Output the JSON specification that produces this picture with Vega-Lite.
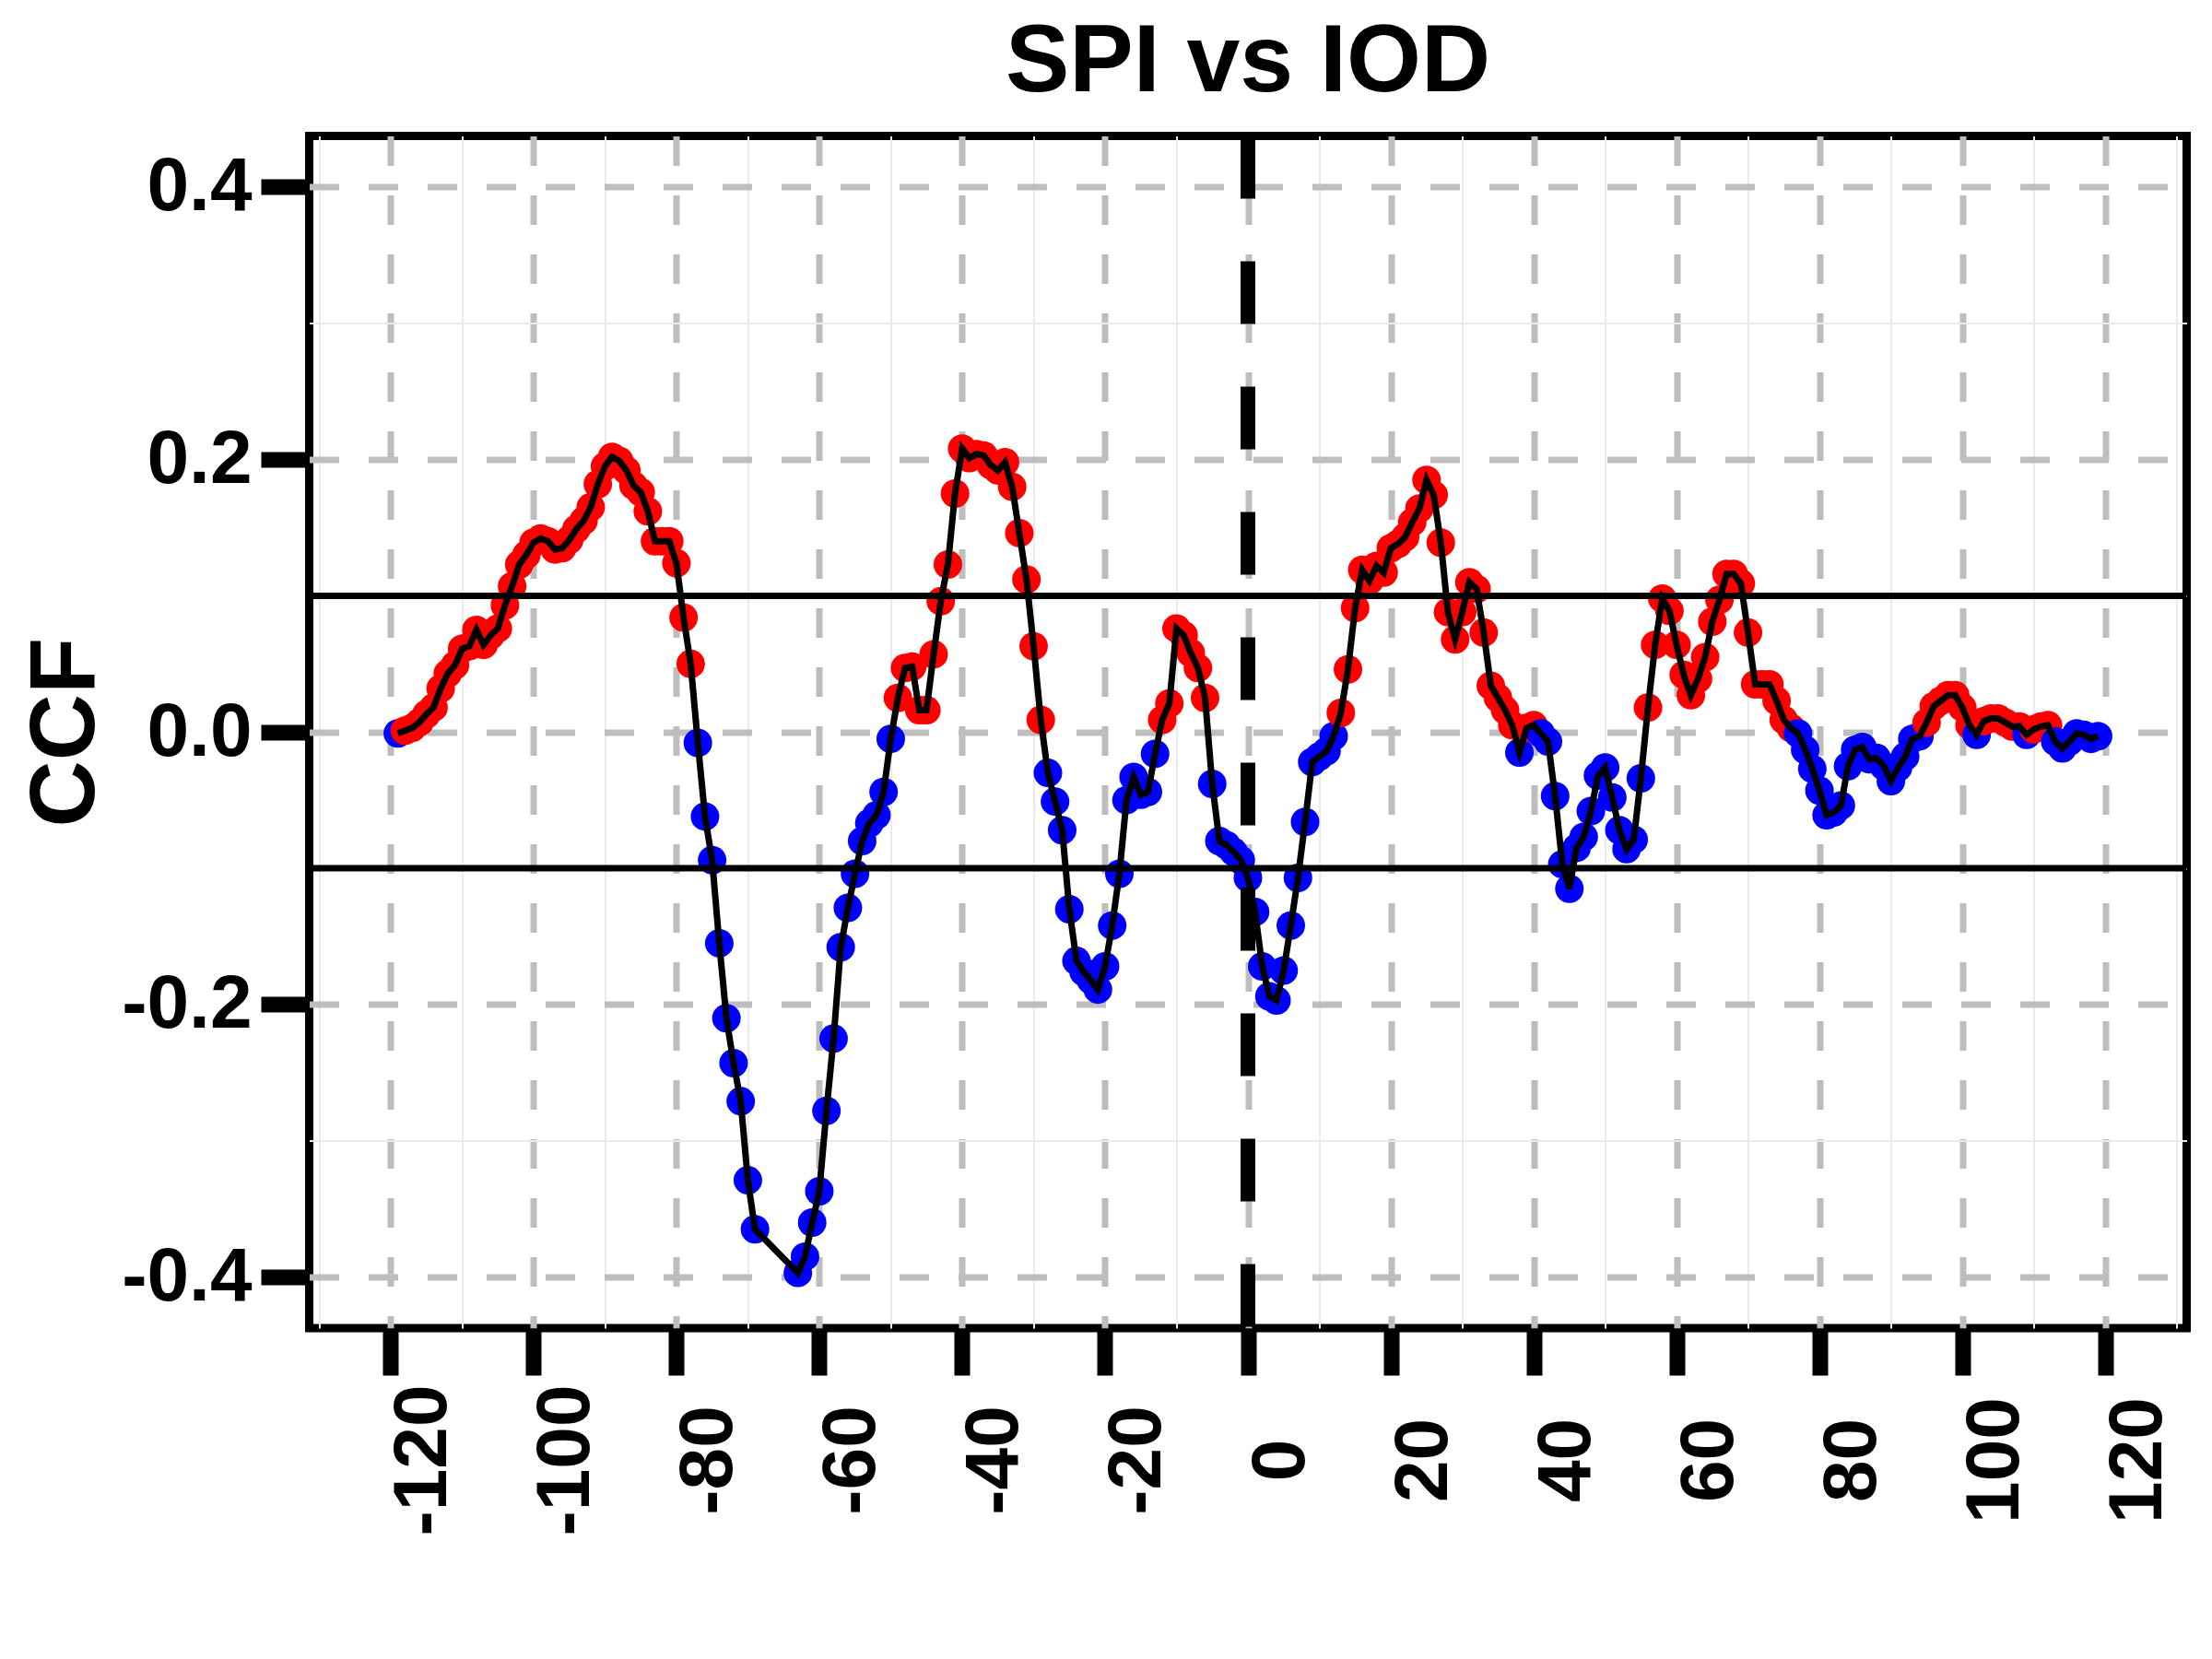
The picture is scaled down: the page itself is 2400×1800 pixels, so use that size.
{
  "$schema": "https://vega.github.io/schema/vega-lite/v6.json",
  "autosize": {"type": "none"},
  "padding": {"left": 335.5, "top": 147.5, "right": 27.5, "bottom": 359},
  "width": 2037,
  "height": 1293.5,
  "background": "white",
  "config": {"font": "Liberation Sans", "view": {"stroke": "black", "strokeWidth": 9}},
  "title": {"text": "SPI vs IOD", "fontSize": 104, "fontWeight": "bold", "font": "Liberation Sans", "anchor": "middle", "color": "black", "offset": 19},
  "datasets": {
    "ccf": [
      {"lag": -119, "ccf": -0.001}, {"lag": -118, "ccf": 0.001}, {"lag": -117, "ccf": 0.003}, {"lag": -116, "ccf": 0.007},
      {"lag": -115, "ccf": 0.013}, {"lag": -114, "ccf": 0.018}, {"lag": -113, "ccf": 0.032}, {"lag": -112, "ccf": 0.043},
      {"lag": -111, "ccf": 0.049}, {"lag": -110, "ccf": 0.061}, {"lag": -109, "ccf": 0.063}, {"lag": -108, "ccf": 0.075},
      {"lag": -107, "ccf": 0.064}, {"lag": -106, "ccf": 0.071}, {"lag": -105, "ccf": 0.076}, {"lag": -104, "ccf": 0.093},
      {"lag": -103, "ccf": 0.107}, {"lag": -102, "ccf": 0.123}, {"lag": -101, "ccf": 0.130}, {"lag": -100, "ccf": 0.139},
      {"lag": -99, "ccf": 0.142}, {"lag": -98, "ccf": 0.140}, {"lag": -97, "ccf": 0.134}, {"lag": -96, "ccf": 0.135},
      {"lag": -95, "ccf": 0.141}, {"lag": -94, "ccf": 0.149}, {"lag": -93, "ccf": 0.155}, {"lag": -92, "ccf": 0.165},
      {"lag": -91, "ccf": 0.182}, {"lag": -90, "ccf": 0.195}, {"lag": -89, "ccf": 0.202}, {"lag": -88, "ccf": 0.199},
      {"lag": -87, "ccf": 0.192}, {"lag": -86, "ccf": 0.181}, {"lag": -85, "ccf": 0.176}, {"lag": -84, "ccf": 0.162},
      {"lag": -83, "ccf": 0.140}, {"lag": -82, "ccf": 0.140}, {"lag": -81, "ccf": 0.140}, {"lag": -80, "ccf": 0.124},
      {"lag": -79, "ccf": 0.084}, {"lag": -78, "ccf": 0.050}, {"lag": -77, "ccf": -0.008}, {"lag": -76, "ccf": -0.062},
      {"lag": -75, "ccf": -0.094}, {"lag": -74, "ccf": -0.155}, {"lag": -73, "ccf": -0.210}, {"lag": -72, "ccf": -0.243},
      {"lag": -71, "ccf": -0.271}, {"lag": -70, "ccf": -0.329}, {"lag": -69, "ccf": -0.365},
      {"lag": -63, "ccf": -0.397}, {"lag": -62, "ccf": -0.385}, {"lag": -61, "ccf": -0.360}, {"lag": -60, "ccf": -0.337},
      {"lag": -59, "ccf": -0.278}, {"lag": -58, "ccf": -0.225}, {"lag": -57, "ccf": -0.158}, {"lag": -56, "ccf": -0.129},
      {"lag": -55, "ccf": -0.104}, {"lag": -54, "ccf": -0.080}, {"lag": -53, "ccf": -0.067}, {"lag": -52, "ccf": -0.061},
      {"lag": -51, "ccf": -0.044}, {"lag": -50, "ccf": -0.005}, {"lag": -49, "ccf": 0.025}, {"lag": -48, "ccf": 0.047},
      {"lag": -47, "ccf": 0.048}, {"lag": -46, "ccf": 0.016}, {"lag": -45, "ccf": 0.016}, {"lag": -44, "ccf": 0.057},
      {"lag": -43, "ccf": 0.096}, {"lag": -42, "ccf": 0.123}, {"lag": -41, "ccf": 0.175}, {"lag": -40, "ccf": 0.208},
      {"lag": -39, "ccf": 0.201}, {"lag": -38, "ccf": 0.204}, {"lag": -37, "ccf": 0.203}, {"lag": -36, "ccf": 0.196},
      {"lag": -35, "ccf": 0.192}, {"lag": -34, "ccf": 0.198}, {"lag": -33, "ccf": 0.180}, {"lag": -32, "ccf": 0.146},
      {"lag": -31, "ccf": 0.112}, {"lag": -30, "ccf": 0.063}, {"lag": -29, "ccf": 0.009}, {"lag": -28, "ccf": -0.030},
      {"lag": -27, "ccf": -0.051}, {"lag": -26, "ccf": -0.072}, {"lag": -25, "ccf": -0.130}, {"lag": -24, "ccf": -0.168},
      {"lag": -23, "ccf": -0.176}, {"lag": -22, "ccf": -0.182}, {"lag": -21, "ccf": -0.189}, {"lag": -20, "ccf": -0.172},
      {"lag": -19, "ccf": -0.142}, {"lag": -18, "ccf": -0.104}, {"lag": -17, "ccf": -0.050}, {"lag": -16, "ccf": -0.033},
      {"lag": -15, "ccf": -0.046}, {"lag": -14, "ccf": -0.044}, {"lag": -13, "ccf": -0.016}, {"lag": -12, "ccf": 0.009},
      {"lag": -11, "ccf": 0.021}, {"lag": -10, "ccf": 0.076}, {"lag": -9, "ccf": 0.071}, {"lag": -8, "ccf": 0.058},
      {"lag": -7, "ccf": 0.047}, {"lag": -6, "ccf": 0.025}, {"lag": -5, "ccf": -0.038}, {"lag": -4, "ccf": -0.080},
      {"lag": -3, "ccf": -0.083}, {"lag": -2, "ccf": -0.088}, {"lag": -1, "ccf": -0.094}, {"lag": 0, "ccf": -0.107},
      {"lag": 1, "ccf": -0.132}, {"lag": 2, "ccf": -0.172}, {"lag": 3, "ccf": -0.194}, {"lag": 4, "ccf": -0.197},
      {"lag": 5, "ccf": -0.175}, {"lag": 6, "ccf": -0.142}, {"lag": 7, "ccf": -0.107}, {"lag": 8, "ccf": -0.066},
      {"lag": 9, "ccf": -0.022}, {"lag": 10, "ccf": -0.018}, {"lag": 11, "ccf": -0.014}, {"lag": 12, "ccf": -0.003},
      {"lag": 13, "ccf": 0.014}, {"lag": 14, "ccf": 0.046}, {"lag": 15, "ccf": 0.091}, {"lag": 16, "ccf": 0.119},
      {"lag": 17, "ccf": 0.111}, {"lag": 18, "ccf": 0.122}, {"lag": 19, "ccf": 0.117}, {"lag": 20, "ccf": 0.135},
      {"lag": 21, "ccf": 0.138}, {"lag": 22, "ccf": 0.143}, {"lag": 23, "ccf": 0.154}, {"lag": 24, "ccf": 0.164},
      {"lag": 25, "ccf": 0.185}, {"lag": 26, "ccf": 0.174}, {"lag": 27, "ccf": 0.139}, {"lag": 28, "ccf": 0.088},
      {"lag": 29, "ccf": 0.068}, {"lag": 30, "ccf": 0.088}, {"lag": 31, "ccf": 0.110}, {"lag": 32, "ccf": 0.105},
      {"lag": 33, "ccf": 0.073}, {"lag": 34, "ccf": 0.034}, {"lag": 35, "ccf": 0.025}, {"lag": 36, "ccf": 0.016},
      {"lag": 37, "ccf": 0.005}, {"lag": 38, "ccf": -0.015}, {"lag": 39, "ccf": 0.003}, {"lag": 40, "ccf": 0.005},
      {"lag": 41, "ccf": -0.001}, {"lag": 42, "ccf": -0.007}, {"lag": 43, "ccf": -0.047}, {"lag": 44, "ccf": -0.097},
      {"lag": 45, "ccf": -0.115}, {"lag": 46, "ccf": -0.085}, {"lag": 47, "ccf": -0.077}, {"lag": 48, "ccf": -0.058},
      {"lag": 49, "ccf": -0.032}, {"lag": 50, "ccf": -0.026}, {"lag": 51, "ccf": -0.048}, {"lag": 52, "ccf": -0.072},
      {"lag": 53, "ccf": -0.086}, {"lag": 54, "ccf": -0.079}, {"lag": 55, "ccf": -0.034}, {"lag": 56, "ccf": 0.018},
      {"lag": 57, "ccf": 0.064}, {"lag": 58, "ccf": 0.098}, {"lag": 59, "ccf": 0.089}, {"lag": 60, "ccf": 0.064},
      {"lag": 61, "ccf": 0.042}, {"lag": 62, "ccf": 0.027}, {"lag": 63, "ccf": 0.039}, {"lag": 64, "ccf": 0.055},
      {"lag": 65, "ccf": 0.081}, {"lag": 66, "ccf": 0.097}, {"lag": 67, "ccf": 0.116}, {"lag": 68, "ccf": 0.116},
      {"lag": 69, "ccf": 0.109}, {"lag": 70, "ccf": 0.073}, {"lag": 71, "ccf": 0.035}, {"lag": 72, "ccf": 0.035},
      {"lag": 73, "ccf": 0.035}, {"lag": 74, "ccf": 0.023}, {"lag": 75, "ccf": 0.009}, {"lag": 76, "ccf": 0.003},
      {"lag": 77, "ccf": -0.001}, {"lag": 78, "ccf": -0.013}, {"lag": 79, "ccf": -0.027}, {"lag": 80, "ccf": -0.043},
      {"lag": 81, "ccf": -0.061}, {"lag": 82, "ccf": -0.059}, {"lag": 83, "ccf": -0.054}, {"lag": 84, "ccf": -0.025},
      {"lag": 85, "ccf": -0.013}, {"lag": 86, "ccf": -0.011}, {"lag": 87, "ccf": -0.020}, {"lag": 88, "ccf": -0.019},
      {"lag": 89, "ccf": -0.025}, {"lag": 90, "ccf": -0.036}, {"lag": 91, "ccf": -0.026}, {"lag": 92, "ccf": -0.018},
      {"lag": 93, "ccf": -0.005}, {"lag": 94, "ccf": -0.003}, {"lag": 95, "ccf": 0.007}, {"lag": 96, "ccf": 0.019},
      {"lag": 97, "ccf": 0.023}, {"lag": 98, "ccf": 0.027}, {"lag": 99, "ccf": 0.027}, {"lag": 100, "ccf": 0.018},
      {"lag": 101, "ccf": 0.005}, {"lag": 102, "ccf": -0.002}, {"lag": 103, "ccf": 0.008}, {"lag": 104, "ccf": 0.010},
      {"lag": 105, "ccf": 0.010}, {"lag": 106, "ccf": 0.007}, {"lag": 107, "ccf": 0.004}, {"lag": 108, "ccf": 0.004},
      {"lag": 109, "ccf": -0.002}, {"lag": 110, "ccf": 0.002}, {"lag": 111, "ccf": 0.004}, {"lag": 112, "ccf": 0.005},
      {"lag": 113, "ccf": -0.007}, {"lag": 114, "ccf": -0.012}, {"lag": 115, "ccf": -0.007}, {"lag": 116, "ccf": -0.001},
      {"lag": 117, "ccf": -0.002}, {"lag": 118, "ccf": -0.005}, {"lag": 119, "ccf": -0.003}
    ],
    "zero": [{"lag": 0}],
    "bounds": [{"ccf": 0.1}, {"ccf": -0.1}]
  },
  "layer": [
    {
      "data": {"name": "ccf"},
      "mark": {"type": "point", "filled": true, "size": 960, "opacity": 1},
      "encoding": {
        "x": {
          "field": "lag", "type": "quantitative",
          "scale": {"domain": [-131.4, 131.4], "nice": false, "zero": false},
          "axis": {
            "values": [-130, -120, -110, -100, -90, -80, -70, -60, -50, -40, -30, -20, -10, 0, 10, 20, 30, 40, 50, 60, 70, 80, 90, 100, 110, 120, 130],
            "domain": false,
            "grid": true,
            "gridColor": {"condition": {"test": "datum.value % 20 === 0", "value": "#bebebe"}, "value": "#ebebeb"},
            "gridDash": {"condition": {"test": "datum.value % 20 === 0", "value": [32, 32]}, "value": []},
            "gridWidth": {"condition": {"test": "datum.value % 20 === 0", "value": 7}, "value": 2},
            "ticks": true,
            "tickColor": {"condition": {"test": "datum.value % 20 === 0", "value": "black"}, "value": "transparent"},
            "tickSize": 51,
            "tickWidth": 17,
            "labelExpr": "datum.value % 20 === 0 ? (datum.value < 0 ? '-' : '') + abs(datum.value) : ''",
            "labelAngle": 270,
            "labelAlign": "center",
            "labelBaseline": "middle",
            "labelOffset": 35,
            "labelPadding": 92,
            "labelFont": "Liberation Sans",
            "labelFontSize": 82,
            "labelFontWeight": "bold",
            "labelColor": "black",
            "labelOverlap": false,
            "labelFlush": false,
            "title": null
          }
        },
        "y": {
          "field": "ccf", "type": "quantitative",
          "scale": {"domain": [-0.4375, 0.4375], "nice": false, "zero": false},
          "axis": {
            "values": [-0.4, -0.3, -0.2, -0.1, 0, 0.1, 0.2, 0.3, 0.4],
            "domain": false,
            "grid": true,
            "gridColor": {"condition": {"test": "abs(round(datum.value * 10)) % 2 === 0", "value": "#bebebe"}, "value": "#ebebeb"},
            "gridDash": {"condition": {"test": "abs(round(datum.value * 10)) % 2 === 0", "value": [32, 32]}, "value": []},
            "gridWidth": {"condition": {"test": "abs(round(datum.value * 10)) % 2 === 0", "value": 7}, "value": 2},
            "ticks": true,
            "tickColor": {"condition": {"test": "abs(round(datum.value * 10)) % 2 === 0", "value": "black"}, "value": "transparent"},
            "tickSize": 52.5,
            "tickWidth": 17,
            "labelExpr": "abs(round(datum.value * 10)) % 2 === 0 ? (datum.value < 0 ? '-' : '') + format(abs(datum.value), '.1f') : ''",
            "labelAlign": "right",
            "labelBaseline": "middle",
            "labelPadding": 10,
            "labelFont": "Liberation Sans",
            "labelFontSize": 82,
            "labelFontWeight": "bold",
            "labelColor": "black",
            "labelOverlap": false,
            "labelFlush": false,
            "title": "CCF",
            "titleFont": "Liberation Sans",
            "titleFontSize": 100,
            "titleFontWeight": "bold",
            "titleColor": "black",
            "titleAngle": 270,
            "titleAlign": "center",
            "titleBaseline": "middle",
            "titleX": -264,
            "titleY": 646.75
          }
        },
        "color": {"condition": {"test": "datum.ccf > 0", "value": "#FF0000"}, "value": "#0000FF"}
      }
    },
    {
      "data": {"name": "ccf"},
      "mark": {"type": "line", "color": "black", "strokeWidth": 7},
      "encoding": {
        "x": {"field": "lag", "type": "quantitative"},
        "y": {"field": "ccf", "type": "quantitative"}
      }
    },
    {
      "data": {"name": "bounds"},
      "mark": {"type": "rule", "color": "black", "strokeWidth": 7},
      "encoding": {"y": {"field": "ccf", "type": "quantitative"}}
    },
    {
      "data": {"name": "zero"},
      "mark": {"type": "rule", "color": "black", "strokeWidth": 16, "strokeDash": [68, 68]},
      "encoding": {"x": {"field": "lag", "type": "quantitative"}}
    }
  ]
}
